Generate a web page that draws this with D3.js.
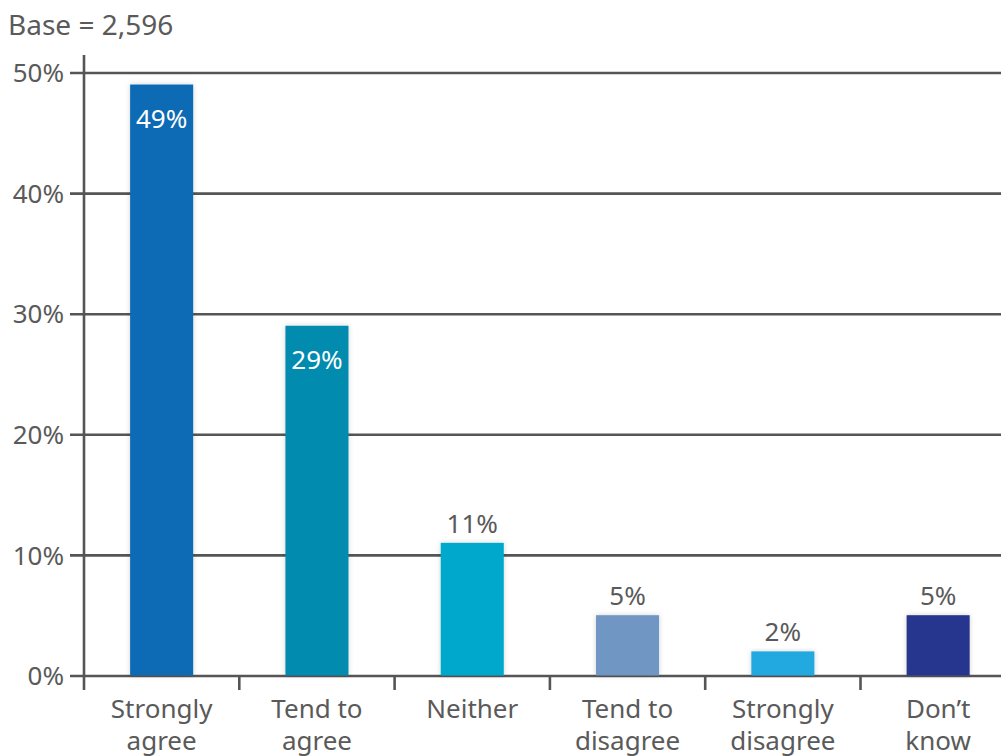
<!DOCTYPE html>
<html>
<head>
<meta charset="utf-8">
<script src="https://cdn.jsdelivr.net/npm/d3@7"></script>
<style>
  html, body { margin: 0; padding: 0; background: #fff; }
  svg { display: block; font-family: "Noto Sans", "Open Sans", sans-serif; }
</style>
</head>
<body>
<svg id="chart" width="1001" height="756"></svg>
<script>
// Survey responses (% of respondents)
const categories = [["Strongly", "agree"], ["Tend to", "agree"], ["Neither"], ["Tend to", "disagree"], ["Strongly", "disagree"], ["Don\u2019t", "know"]];
const values = [49, 29, 11, 5, 2, 5];
const colors = ["#0F6AB4", "#008BAF", "#00A8CB", "#7096C4", "#22A9DF", "#28368D"];
const yTicks = [0, 10, 20, 30, 40, 50];
const baseLabel = "Base = 2,596";

const svg = d3.select("#chart");
const textColor = "#5a5a5a";
const lineColor = "#555555";

const x = d3.scaleBand()
  .domain(d3.range(categories.length))
  .range([84, 84 + 155.3 * categories.length])
  .paddingInner(0.594)
  .paddingOuter(0.297);

const y = d3.scaleLinear().domain([0, 50]).range([675.5, 72.5]);

// soft shadow behind the bars
const defs = svg.append("defs");
const f = defs.append("filter").attr("id", "shadow")
  .attr("x", "-20%").attr("y", "-10%").attr("width", "140%").attr("height", "120%");
f.append("feGaussianBlur").attr("in", "SourceAlpha").attr("stdDeviation", 2.5).attr("result", "b");
f.append("feFlood").attr("flood-color", "#000").attr("flood-opacity", 0.18);
f.append("feComposite").attr("in2", "b").attr("operator", "in").attr("result", "s");
const m = f.append("feMerge");
m.append("feMergeNode").attr("in", "s");
m.append("feMergeNode").attr("in", "SourceGraphic");

// base note
svg.append("text")
  .attr("x", 8).attr("y", 35)
  .attr("font-size", 28).attr("fill", textColor)
  .text(baseLabel);

// horizontal gridlines with left tick labels
const yAxis = d3.axisLeft(y)
  .tickValues(yTicks)
  .tickSize(-(1001 - 70))
  .tickFormat(d => d + "%");
const gy = svg.append("g").attr("transform", "translate(70,0)").call(yAxis);
gy.select(".domain").remove();
gy.selectAll(".tick line")
  .attr("x1", 0).attr("x2", 1001 - 70)
  .attr("stroke", lineColor).attr("stroke-width", 2.6);
gy.selectAll(".tick text")
  .attr("x", -6).attr("dy", "0.35em")
  .attr("font-size", 26).attr("fill", textColor)
  .attr("font-family", "Noto Sans, Open Sans, sans-serif");

// vertical axis line
svg.append("line")
  .attr("x1", 84).attr("x2", 84)
  .attr("y1", 55).attr("y2", 690)
  .attr("stroke", lineColor).attr("stroke-width", 2.6);

// category boundary ticks below baseline
const step = x.step();
const boundaries = d3.range(1, categories.length).map(i => x.range()[0] + i * step);
svg.append("g").selectAll("line").data(boundaries).join("line")
  .attr("x1", d => d).attr("x2", d => d)
  .attr("y1", y(0)).attr("y2", 690)
  .attr("stroke", lineColor).attr("stroke-width", 2.6);

// bars
svg.append("g").selectAll("rect").data(values).join("rect")
  .attr("x", (d, i) => x(i))
  .attr("y", d => y(d))
  .attr("width", x.bandwidth())
  .attr("height", d => y(0) - y(d))
  .attr("fill", (d, i) => colors[i])
  .attr("filter", "url(#shadow)");

// value labels: inside for tall bars, above otherwise
svg.append("g").selectAll("text").data(values).join("text")
  .attr("x", (d, i) => x(i) + x.bandwidth() / 2)
  .attr("y", d => d >= 20 ? y(d) + 43 : y(d) - 10)
  .attr("text-anchor", "middle")
  .attr("font-size", 26)
  .attr("fill", d => d >= 20 ? "#ffffff" : textColor)
  .text(d => d + "%");

// category labels
const cl = svg.append("g").selectAll("text").data(categories).join("text")
  .attr("x", (d, i) => x(i) + x.bandwidth() / 2)
  .attr("y", 718)
  .attr("text-anchor", "middle")
  .attr("font-size", 26)
  .attr("fill", textColor);
cl.selectAll("tspan").data(d => d).join("tspan")
  .attr("x", function() { return d3.select(this.parentNode).attr("x"); })
  .attr("dy", (d, i) => i === 0 ? 0 : 32)
  .text(d => d);
</script>
</body>
</html>
